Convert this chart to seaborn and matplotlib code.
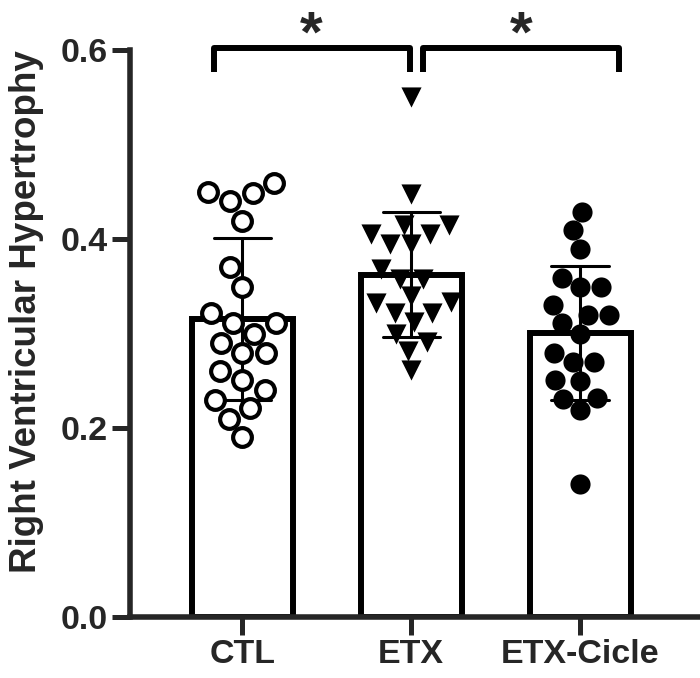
import numpy as np
import pandas as pd
import matplotlib
matplotlib.use("Agg")
import matplotlib.pyplot as plt
import seaborn as sns

# groups and per-animal values
groups = ["CTL", "ETX", "ETX-Cicle"]
ctl = [0.450, 0.459, 0.449, 0.440, 0.419, 0.370, 0.349, 0.322, 0.311, 0.311,
       0.300, 0.290, 0.279, 0.279, 0.260, 0.251, 0.240, 0.230, 0.221, 0.210, 0.190]
etx = [0.550, 0.448, 0.415, 0.415, 0.405, 0.405, 0.395, 0.395, 0.368, 0.358, 0.358,
       0.340, 0.333, 0.332, 0.322, 0.322, 0.312, 0.300, 0.291, 0.282, 0.261]
etx_cicle = [0.429, 0.410, 0.390, 0.359, 0.349, 0.349, 0.330, 0.320, 0.320, 0.311,
             0.300, 0.279, 0.270, 0.270, 0.251, 0.250, 0.232, 0.231, 0.219, 0.141]

df = pd.DataFrame({
    "group": ["CTL"] * len(ctl) + ["ETX"] * len(etx) + ["ETX-Cicle"] * len(etx_cicle),
    "value": ctl + etx + etx_cicle,
})

sns.set_style("ticks")
plt.rcParams["font.family"] = ["Liberation Sans", "DejaVu Sans"]
plt.rcParams["font.weight"] = "bold"

fig = plt.figure(figsize=(7, 6.78), dpi=100)
ax = fig.add_axes([0.186, 0.090, 0.8143, 0.836])

# bars = mean, error bars = SD
sns.barplot(data=df, x="group", y="value", order=groups, errorbar="sd",
            width=0.6, color="white", edgecolor="black", linewidth=4.3,
            capsize=0.34, err_kws={"color": "black", "linewidth": 2.2}, ax=ax)

# individual points
styles = {
    "CTL": dict(marker="o", color="white", edgecolor="black", linewidth=3, size=13.5),
    "ETX": dict(marker="v", color="black", linewidth=0, size=14.5),
    "ETX-Cicle": dict(marker="o", color="black", linewidth=0, size=14.5),
}
for g in groups:
    sns.swarmplot(data=df[df.group == g], x="group", y="value", order=groups,
                  ax=ax, zorder=3, **styles[g])

ax.set_xlim(-0.663, 2.71)
ax.set_ylim(0, 0.6)
ax.set_yticks([0, 0.2, 0.4, 0.6])
ax.set_yticklabels(["0.0", "0.2", "0.4", "0.6"])
ax.set_xlabel("")
ax.set_ylabel("Right Ventricular Hypertrophy", fontsize=26.5, fontweight="bold")
ax.yaxis.set_label_coords(-0.152, 0.538)
sns.despine(ax=ax)
ax.spines["left"].set_bounds(0, 0.6)
for s in ["left", "bottom"]:
    ax.spines[s].set_linewidth(4.0)
ax.tick_params(width=3.6, length=13, labelsize=24.5, pad=3)

# significance brackets
for x0, x1 in [(-0.17, 0.99), (1.07, 2.23)]:
    ax.plot([x0, x0, x1, x1], [0.577, 0.602, 0.602, 0.577], color="black",
            lw=4.3, clip_on=False, solid_capstyle="butt")
    ax.text((x0 + x1) / 2, 0.598, "*", ha="center", va="baseline",
            fontsize=42, fontweight="bold")

fig.savefig("out.png", dpi=100)
